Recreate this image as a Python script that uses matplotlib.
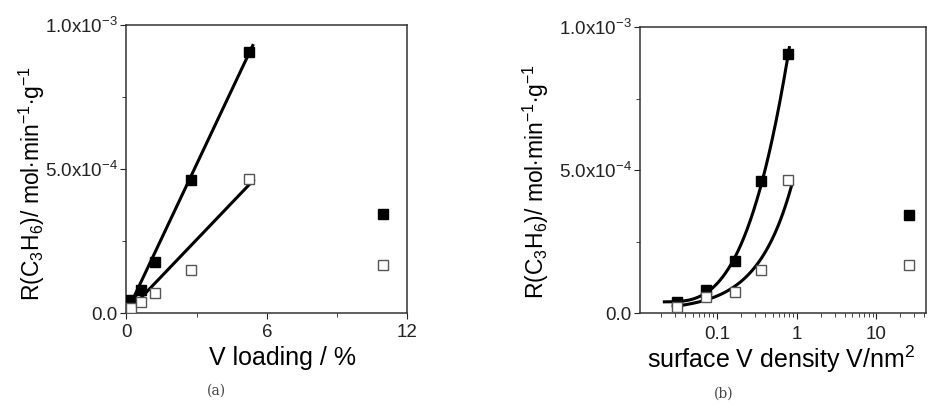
import numpy as np
import matplotlib
matplotlib.use("Agg")
import matplotlib.pyplot as plt
from matplotlib.ticker import FixedLocator, FuncFormatter, LogLocator

plt.rcParams["font.family"] = ["Liberation Sans", "DejaVu Sans"]
plt.rcParams["mathtext.fontset"] = "custom"
plt.rcParams["mathtext.rm"] = "Liberation Sans"
plt.rcParams["mathtext.it"] = "Liberation Sans"

# V loading (%) and surface V density (V/nm^2)
loading = [0.21, 0.64, 1.24, 2.75, 5.22, 10.97]
density = [0.032, 0.074, 0.168, 0.363, 0.79, 25.9]

# propylene formation rate, mol/min/g
rate_filled_a = [0.046e-3, 0.081e-3, 0.179e-3, 0.462e-3, 0.907e-3, 0.343e-3]
rate_open_a = [0.017e-3, 0.040e-3, 0.069e-3, 0.150e-3, 0.466e-3, 0.168e-3]
rate_filled_b = [0.039e-3, 0.080e-3, 0.182e-3, 0.462e-3, 0.907e-3, 0.343e-3]
rate_open_b = [0.022e-3, 0.057e-3, 0.074e-3, 0.152e-3, 0.464e-3, 0.168e-3]

# fitted lines: (intercept, slope, x_start, x_end)
fit_filled_a = (0.0, 0.172e-3, 0.0, 5.40)
fit_open_a = (0.0, 0.085e-3, 0.0, 5.43)
fit_open_b = (0.0096e-3, 0.505e-3, 0.0285, 0.86)
span_filled_b = (0.022, 0.81)  # smooth fit (cubic in log x) range

n_fit = 5  # last sample excluded from the fits

ylab = r"R(C$_3$H$_6$)/ mol$\cdot$min$^{-1}$$\cdot$g$^{-1}$"


def yfmt(v, pos):
    if abs(v) < 1e-12:
        return "0.0"
    exp = int(np.floor(np.log10(v)))
    mant = v / 10 ** exp
    return r"%.1fx10$^{%d}$" % (mant, exp)


def style_y(ax):
    ax.set_ylim(0, 1.0e-3)
    ax.yaxis.set_major_locator(FixedLocator([0, 5e-4, 1e-3]))
    ax.yaxis.set_minor_locator(FixedLocator([2.5e-4, 7.5e-4]))
    ax.yaxis.set_major_formatter(FuncFormatter(yfmt))
    ax.tick_params(which="both", direction="out", labelsize=13.5, colors="#222222", pad=2)
    ax.tick_params(which="major", length=4)
    ax.tick_params(which="minor", length=3)
    for s in ax.spines.values():
        s.set_linewidth(1.1)
        s.set_color("#333333")


def line(ax, fit, xx):
    b, k = fit[0], fit[1]
    ax.plot(xx, [b + k * v for v in xx], color="black", lw=2.2, zorder=2)


fig = plt.figure(figsize=(9.28, 4.09), dpi=100)
ax1 = fig.add_axes([0.136, 0.234, 0.303, 0.705])
ax2 = fig.add_axes([0.690, 0.234, 0.308, 0.700])

# (a) linear axis
ax1.plot(loading, rate_filled_a, "s", color="black", ms=7.5, mec="black", zorder=3)
ax1.plot(loading, rate_open_a, "s", color="white", ms=7.5, mec="#555555", mew=1, zorder=3)
for fit in (fit_filled_a, fit_open_a):
    line(ax1, fit, np.linspace(fit[2], fit[3], 20))
ax1.set_xlim(0, 12)
ax1.xaxis.set_major_locator(FixedLocator([0, 6, 12]))
ax1.xaxis.set_minor_locator(FixedLocator([3, 9]))
style_y(ax1)
ax1.tick_params(axis="x", pad=4)
ax1.set_xlabel("V loading / %", fontsize=18, va="top")
ax1.xaxis.set_label_coords(0.555, -0.112)
ax1.set_ylabel(ylab, fontsize=16.5)
ax1.yaxis.set_label_coords(-0.283, 0.45)

# (b) log axis
ax2.plot(density, rate_filled_b, "s", color="black", ms=7.5, mec="black", zorder=3)
ax2.plot(density, rate_open_b, "s", color="white", ms=7.5, mec="#555555", mew=1, zorder=3)
cf = np.polyfit(np.log10(density[:n_fit]), rate_filled_b[:n_fit], 3)
uu = np.linspace(np.log10(span_filled_b[0]), np.log10(span_filled_b[1]), 200)
ax2.plot(10 ** uu, np.polyval(cf, uu), color="black", lw=2.2, zorder=2)
line(ax2, fit_open_b, np.logspace(np.log10(fit_open_b[2]), np.log10(fit_open_b[3]), 100))
ax2.set_xscale("log")
ax2.set_xlim(0.011, 42)
ax2.xaxis.set_major_locator(FixedLocator([0.1, 1, 10]))
ax2.xaxis.set_major_formatter(FuncFormatter(lambda v, p: "%g" % v))
ax2.xaxis.set_minor_locator(LogLocator(base=10, subs=np.arange(2, 10)))
ax2.xaxis.set_minor_formatter(FuncFormatter(lambda v, p: ""))
style_y(ax2)
ax2.tick_params(axis="x", pad=5)
ax2.set_xlabel(r"surface V density V/nm$^2$", fontsize=18, va="top")
ax2.xaxis.set_label_coords(0.491, -0.105)
ax2.set_ylabel(ylab, fontsize=16.5)
ax2.yaxis.set_label_coords(-0.314, 0.46)

fig.text(216 / 928, 1 - 391 / 409, "(a)", fontsize=10, family="DejaVu Serif", ha="center", va="center", color="#444444")
fig.text(724 / 928, 1 - 394 / 409, "(b)", fontsize=10, family="DejaVu Serif", ha="center", va="center", color="#444444")

fig.savefig("out.png", dpi=100)
